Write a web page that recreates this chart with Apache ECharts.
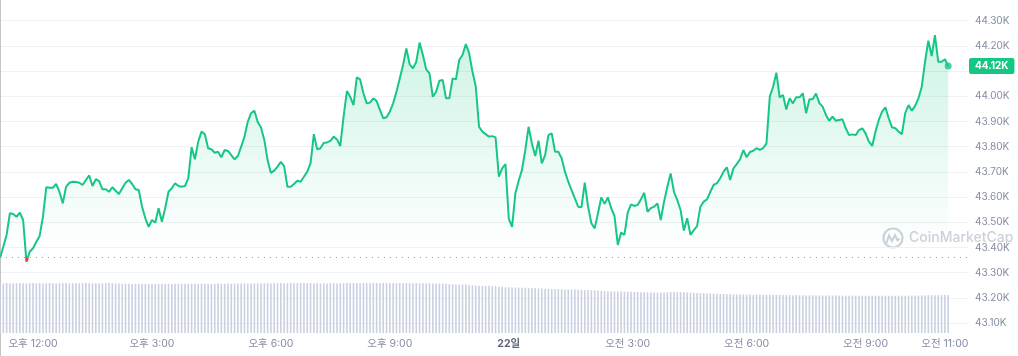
<!DOCTYPE html>
<html><head><meta charset="utf-8">
<script src="https://cdn.jsdelivr.net/npm/echarts@6/dist/echarts.min.js"></script>
<style>html,body{margin:0;padding:0;background:#fff}#c{width:1018px;height:356px}</style>
</head><body><div id="c"></div>
<script>
// 5-minute price samples (in K USD)
const prices = [
43.358,43.403,43.450,43.536,43.533,43.522,43.538,43.509,43.344,43.383,43.397,43.423,
43.446,43.522,43.639,43.637,43.637,43.652,43.621,43.575,43.641,43.657,43.661,43.660,
43.657,43.648,43.668,43.686,43.644,43.671,43.663,43.631,43.631,43.621,43.639,43.625,
43.612,43.635,43.657,43.668,43.652,43.631,43.628,43.562,43.516,43.482,43.509,43.498,
43.556,43.502,43.556,43.621,43.635,43.655,43.644,43.641,43.644,43.675,43.798,43.750,
43.820,43.860,43.849,43.794,43.790,43.776,43.780,43.758,43.787,43.783,43.767,43.750,
43.763,43.800,43.840,43.899,43.933,43.943,43.898,43.876,43.827,43.747,43.696,43.705,
43.721,43.740,43.723,43.641,43.641,43.652,43.665,43.661,43.681,43.701,43.734,43.850,
43.790,43.794,43.816,43.817,43.823,43.840,43.829,43.803,43.919,44.021,43.998,43.965,
44.075,44.067,44.012,43.972,43.975,43.992,43.981,43.946,43.913,43.917,43.939,43.972,
44.018,44.071,44.124,44.190,44.127,44.111,44.137,44.213,44.164,44.107,44.091,43.998,
44.018,44.062,44.065,43.992,43.992,44.071,44.067,44.144,44.164,44.207,44.171,44.098,
44.040,43.879,43.860,43.850,43.840,43.842,43.837,43.681,43.714,43.731,43.515,43.482,
43.615,43.665,43.708,43.787,43.879,43.813,43.763,43.824,43.734,43.767,43.846,43.853,
43.780,43.780,43.754,43.701,43.661,43.628,43.595,43.562,43.560,43.657,43.562,43.496,
43.476,43.536,43.599,43.573,43.599,43.556,43.525,43.410,43.459,43.450,43.538,43.571,
43.565,43.569,43.591,43.617,43.542,43.556,43.562,43.575,43.509,43.582,43.641,43.694,
43.621,43.588,43.549,43.467,43.516,43.450,43.469,43.485,43.562,43.582,43.591,43.621,
43.648,43.655,43.675,43.701,43.718,43.668,43.714,43.731,43.750,43.787,43.758,43.779,
43.784,43.794,43.787,43.794,43.813,43.998,44.038,44.094,43.996,44.005,43.948,43.992,
43.972,43.996,43.996,44.012,43.933,43.988,43.988,44.011,43.973,43.959,43.926,43.903,
43.919,43.903,43.906,43.909,43.873,43.846,43.849,43.846,43.866,43.873,43.853,43.820,
43.803,43.860,43.906,43.939,43.956,43.913,43.877,43.873,43.860,43.850,43.933,43.965,
43.943,43.962,43.992,44.038,44.137,44.221,44.160,44.243,44.137,44.137,44.147,44.120
];
// 24h rolling volume (B USD) per 5-minute bar
const volumes = [
24.9,24.8,25.0,24.9,24.8,24.9,25.0,24.9,24.7,24.9,25.0,24.8,
24.9,24.8,24.9,25.0,24.9,24.8,24.9,24.9,25.0,24.8,24.9,24.9,
24.8,24.9,25.0,24.9,24.8,24.9,24.9,24.8,24.9,25.0,24.9,24.8,
24.7,24.6,24.7,24.6,24.5,24.6,24.6,24.5,24.6,24.5,24.6,24.5,
24.6,24.5,24.6,24.6,24.5,24.6,24.7,24.6,24.6,24.5,24.6,24.6,
24.6,24.7,24.6,24.6,24.5,24.6,24.7,24.6,24.6,24.7,24.6,24.7,
24.7,24.8,24.8,24.7,24.8,24.8,24.9,24.8,24.9,24.9,24.8,24.9,
24.9,25.0,24.9,24.9,25.0,24.9,25.0,25.0,24.9,25.0,25.0,24.9,
24.9,24.8,24.9,24.8,24.9,24.9,24.8,24.9,24.9,25.0,24.9,25.0,
25.0,24.9,25.0,25.0,24.9,25.0,25.0,24.9,25.0,24.9,25.0,25.0,
24.9,25.0,24.9,25.0,24.9,24.9,25.0,24.9,24.9,24.8,24.9,24.8,
24.8,24.7,24.8,24.6,24.4,24.3,24.3,24.2,24.3,24.2,24.0,23.8,
23.7,23.6,23.6,23.5,23.6,23.4,23.3,23.1,23.0,22.9,22.9,22.8,
22.7,22.7,22.6,22.6,22.5,22.4,22.4,22.3,22.2,22.1,22.1,22.0,
22.0,21.9,21.9,21.8,21.8,21.7,21.7,21.6,21.6,21.5,21.5,21.4,
21.3,21.2,21.1,21.0,20.9,20.9,20.8,20.8,20.7,20.7,20.6,20.6,
20.5,20.5,20.4,20.4,20.3,20.3,20.3,20.2,20.2,20.3,20.4,20.5,
20.5,20.4,20.5,20.4,20.3,20.2,20.1,20.0,19.9,19.9,19.8,19.8,
19.7,19.6,19.5,19.5,19.4,19.4,19.3,19.3,19.3,19.2,19.2,19.2,
19.1,19.2,19.1,19.1,19.0,19.1,19.0,19.0,19.1,19.0,19.0,18.9,
18.9,18.9,18.8,18.9,18.8,18.8,18.9,18.8,18.8,18.7,18.8,18.8,
18.7,18.7,18.8,18.7,18.7,18.6,18.7,18.7,18.6,18.7,18.6,18.6,
18.6,18.7,18.6,18.6,18.7,18.6,18.6,18.6,18.7,18.6,18.6,18.7,
18.7,18.8,18.7,18.8,18.8,18.9,18.9,18.9,18.9,19.0,19.0,19.0
];
const openPrice = 43.358;
const lastPrice = prices[prices.length - 1];
const xTickTimes  = ['21 12:00','21 15:00','21 18:00','21 21:00','22 00:00','22 03:00','22 06:00','22 09:00','22 11:00'];
const xTickLabels = ['오후 12:00','오후 3:00','오후 6:00','오후 9:00','22일','오전 3:00','오전 6:00','오전 9:00','오전 11:00'];
const watermark = 'CoinMarketCap';

// 5-minute time slots starting 21일 11:10 (a few extra slots past the last sample)
const categories = [];
for (let i = 0; i < 294; i++) {
  const m = 11 * 60 + 10 + 5 * i;
  const d = 21 + Math.floor(m / 1440);
  const mm = m % 1440;
  categories.push(d + ' ' + String(Math.floor(mm / 60)).padStart(2, '0') + ':' + String(mm % 60).padStart(2, '0'));
}

const FONT = 'Inter, "Noto Sans CJK KR", sans-serif';
const GREEN = '#16c784';
const RED = '#ea3943';
const chart = echarts.init(document.getElementById('c'));
chart.setOption({
  animation: false,
  grid: [
    { left: 0, right: 50, top: 20.7, bottom: 32.9 },
    { left: 0, right: 50, top: 283, bottom: 23 },
    { left: 0, right: 50, top: 0, bottom: 0 }
  ],
  xAxis: [
    { gridIndex: 0, type: 'category', data: categories, boundaryGap: false,
      axisLine: { show: false }, axisTick: { show: false }, axisLabel: { show: false }, splitLine: { show: false } },
    { gridIndex: 1, type: 'category', data: categories, boundaryGap: false,
      axisLine: { show: false }, axisTick: { show: false }, splitLine: { show: false },
      axisLabel: {
        interval: (i, v) => xTickTimes.indexOf(v) >= 0,
        formatter: v => { const k = xTickTimes.indexOf(v); if (k < 0) return ''; return k === 4 ? '{b|' + xTickLabels[k] + '}' : xTickLabels[k]; },
        margin: 6, color: '#858ca2', fontSize: 10.5, fontFamily: FONT,
        rich: { b: { fontWeight: 'bold', color: '#5d6679', fontSize: 10.5, fontFamily: FONT } }
      } },
    { gridIndex: 2, type: 'value', show: false, min: 0, max: 1 }
  ],
  yAxis: [
    { gridIndex: 0, type: 'value', position: 'right', min: 43.1, max: 44.3, interval: 0.1,
      axisLine: { show: false }, axisTick: { show: false },
      splitLine: { lineStyle: { color: '#eff1f4', width: 1 } },
      axisLabel: { margin: 7, color: '#858ca2', fontSize: 10, fontFamily: FONT,
        formatter: v => Math.abs(v - 44.1) < 1e-6 ? '' : v.toFixed(2) + 'K' } },
    { gridIndex: 1, type: 'value', min: 0, max: 25, show: false },
    { gridIndex: 2, type: 'value', position: 'right', min: 0, max: 1,
      axisLine: { show: true, lineStyle: { color: '#c4c4c4', width: 1 } },
      axisTick: { show: false }, axisLabel: { show: false }, splitLine: { show: false } }
  ],
  visualMap: {
    show: false, type: 'piecewise', seriesIndex: 0, dimension: 1,
    pieces: [{ gte: 43.0, lt: openPrice, color: RED }, { gte: openPrice, lte: 44.5, color: GREEN }],
    outOfRange: { color: GREEN }
  },
  graphic: [
    { type: 'circle', silent: true, z: 0, shape: { cx: 893, cy: 238, r: 9.5 },
      style: { fill: 'none', stroke: '#cdd1da', lineWidth: 2.2 } },
    { type: 'polyline', silent: true, z: 0, shape: { points: [[886.5, 243], [889, 235.5], [892, 241], [895, 235], [897.5, 240.5], [899.5, 238.5]] },
      style: { fill: 'none', stroke: '#cdd1da', lineWidth: 2 } },
    { type: 'text', silent: true, z: 0, x: 909, y: 238,
      style: { text: watermark, fill: '#cdd1da', font: '500 14px ' + FONT, verticalAlign: 'middle' } }
  ],
  series: [
    { type: 'line', xAxisIndex: 0, yAxisIndex: 0, data: prices, showSymbol: false, symbol: 'none',
      lineStyle: { width: 2 }, z: 3,
      areaStyle: { origin: 'start', color: new echarts.graphic.LinearGradient(0, 20, 0, 252, [
        { offset: 0, color: 'rgba(22,199,132,0.32)' },
        { offset: 1, color: 'rgba(22,199,132,0)' }
      ], true) },
      markLine: { silent: true, symbol: 'none', animation: false,
        data: [
          { yAxis: openPrice, lineStyle: { type: [1, 5], color: '#9aa0ab', width: 1 }, label: { show: false } }
        ] } },
    { type: 'scatter', xAxisIndex: 0, yAxisIndex: 0, z: 5, symbolSize: 7,
      data: [[categories[prices.length - 1], lastPrice]], itemStyle: { color: GREEN },
      markLine: { silent: true, symbol: 'none', animation: false,
        data: [
          { yAxis: lastPrice, lineStyle: { color: 'rgba(255,255,255,0)', width: 0 },
            label: { show: true, position: 'end', distance: 1, formatter: lastPrice.toFixed(2) + 'K',
              backgroundColor: GREEN, color: '#fff', fontWeight: 'bold', fontSize: 10, fontFamily: FONT,
              padding: [3, 6, 3, 6], borderRadius: 2, opacity: 1 } }
        ] } },
    { type: 'bar', xAxisIndex: 1, yAxisIndex: 1, data: volumes, barWidth: 1.6, silent: true,
      itemStyle: { color: '#c9d0e0' } }
  ]
});
</script></body></html>
